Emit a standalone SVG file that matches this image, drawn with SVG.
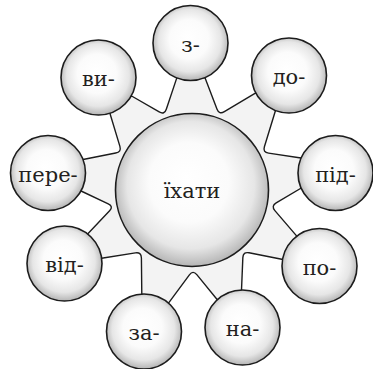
<svg xmlns="http://www.w3.org/2000/svg" width="373" height="369" viewBox="0 0 373 369">
  <defs>
    <radialGradient id="ball" cx="50%" cy="48%" r="52%" fx="46%" fy="42%">
      <stop offset="0" stop-color="#ffffff"/>
      <stop offset="0.5" stop-color="#fbfbfb"/>
      <stop offset="0.8" stop-color="#e6e6e6"/>
      <stop offset="1" stop-color="#b5b5b5"/>
    </radialGradient>
  </defs>
  <style>
    .node circle { fill: url(#ball); stroke: #1c1c1c; stroke-width: 1.6; }
    .node text { font-family: "DejaVu Serif", "Liberation Serif", serif; font-size: 21px; fill: #231f20; text-anchor: middle; }
    .star { fill: #f3f3f3; stroke: #1c1c1c; stroke-width: 1.4; stroke-linejoin: round; }
  </style>
  <rect width="373" height="369" fill="#ffffff"/>
  <g id="connectors">
    <path class="star" d="M204.9,77.6 L217.05,109.2 Q219.2,114.8 224.35,111.7 L255.8,92.9 L275.5,110.5 L264.4,146.7 Q262.6,152.4 268.6,153.1 L301,158 L303,187 L276.2,202.9 Q271,206 274.9,210.6 L296.8,236.1 L283,259.5 L249.0,252.8 Q243.1,251.6 242.85,257.6 L241.5,290.3 L217.3,299.7 L196.8,274.6 Q193,270 189.4,274.8 L168.5,303.1 L141.8,294.1 L141.4,257.9 Q141.3,251.9 135.4,252.9 L101.6,258.3 L87.6,234.0 L109.6,210.8 Q113.7,206.4 108.26,203.9 L80,190.5 L83,159.5 L115.7,153.05 Q121.6,152.1 119.9,146.35 L109.9,113.2 L131.6,96 L159.2,111.9 Q164.4,114.9 166.3,109.2 L176.8,77.9 Z"/>
  </g>
  <g id="node-center" class="node"><circle cx="192" cy="190" r="76.5"/><text x="192" y="198">їхати</text></g>
  <g id="node-z" class="node"><circle cx="190.5" cy="43" r="37.5"/><text x="190.5" y="51.5">з-</text></g>
  <g id="node-do" class="node"><circle cx="289" cy="75.5" r="37.5"/><text x="289" y="84">до-</text></g>
  <g id="node-pid" class="node"><circle cx="335.5" cy="173" r="37.5"/><text x="335.5" y="181.5">під-</text></g>
  <g id="node-po" class="node"><circle cx="319.5" cy="266" r="37.5"/><text x="319.5" y="274.5">по-</text></g>
  <g id="node-na" class="node"><circle cx="242.5" cy="327.5" r="37.5"/><text x="242.5" y="336">на-</text></g>
  <g id="node-za" class="node"><circle cx="144" cy="331.5" r="37.5"/><text x="144" y="340">за-</text></g>
  <g id="node-vid" class="node"><circle cx="64.5" cy="263.5" r="37.5"/><text x="64.5" y="272">від-</text></g>
  <g id="node-pere" class="node"><circle cx="48" cy="173" r="37.5"/><text x="48" y="181.5">пере-</text></g>
  <g id="node-vy" class="node"><circle cx="98.5" cy="77.5" r="37.5"/><text x="98.5" y="86">ви-</text></g>
</svg>
